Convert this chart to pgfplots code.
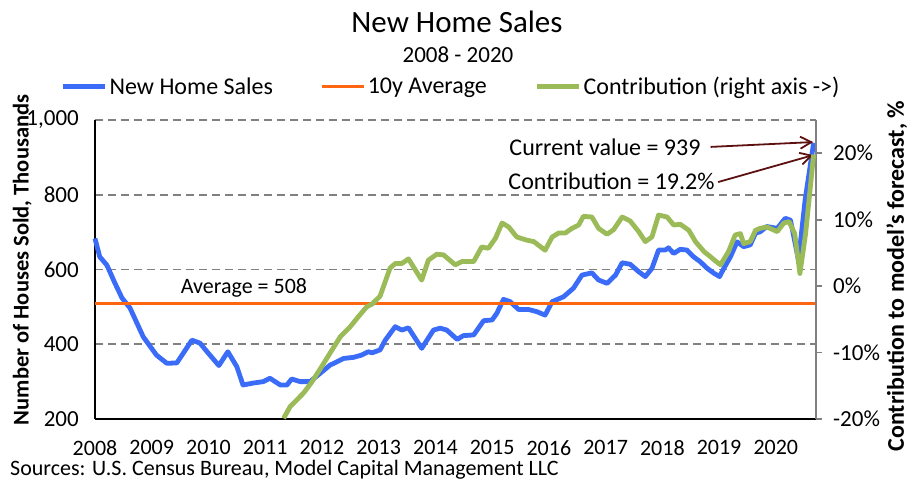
\documentclass[border=0pt]{standalone}
\usepackage{pgfplots}
\pgfplotsset{compat=1.18}
\usepackage{pgfplotstable}
\usepackage{fontspec}
\setmainfont{Carlito}
\usetikzlibrary{arrows.meta}
\definecolor{cblue}{RGB}{59,108,248}
\definecolor{corange}{RGB}{255,102,17}
\definecolor{cgreen}{RGB}{155,187,89}
\definecolor{cgrid}{RGB}{128,128,128}
\definecolor{carrow}{RGB}{92,16,16}

\pgfplotstableread{
m v
0 683
1 634
2.5 612
4.2 564
5.7 524
7.4 497
10.2 420
13 371
15.2 349
17.3 350
20.5 411
22.2 403
24.3 371
26.2 343
28.1 380
30 340
31.3 291
33.4 296
35.6 300
37 309
39.2 291
40.6 291
41.6 307
43.4 300
45.5 300
47.6 322
49.7 344
52.6 362
54.7 365
56.4 371
57.8 380
58.6 377
60.3 385
61.4 411
63.5 447
64.9 438
66.3 444
69.1 389
71.6 438
73 443
74.4 438
76.6 413
77.9 423
80.1 425
82.2 463
84 465
85 483
86.4 520
87.8 514
89.6 493
91.7 493
93.5 487
95.2 478
96.7 514
99.1 527
101.2 550
103 585
105.1 591
106.5 572
108.3 563
110.1 585
111.5 618
113.2 614
115 594
116.4 581
117.8 603
119.2 652
120.6 652
121.3 658
122.4 643
123.8 654
125.2 652
126.6 634
128 621
129.5 603
130.9 590
132.1 581
133 603
134.4 634
135.8 674
137.2 661
138.6 666
139.7 697
140.7 701
142.1 715
144.3 710
146 737
147.1 732
148.8 625
150.2 786
152 939
}\sales

\pgfplotstableread{
m c
39.9 -19.9
41.3 -18.1
42.3 -17.4
44.1 -16.1
45.9 -14.4
47.6 -12.5
49.7 -10.1
51.9 -7.6
54 -6.1
55.7 -4.6
57.5 -3.1
58.6 -2.7
60.3 -1.5
61 -0.1
62.4 2.7
63.5 3.4
64.9 3.4
66.3 4.1
69.1 0.9
70.5 3.9
72.3 4.8
73.7 4.7
76.2 3.2
77.6 3.7
80.1 3.7
81.8 5.9
83.2 5.7
84.7 7.2
86.1 9.5
87.5 8.9
89.2 7.4
91.4 6.9
92.8 6.7
95.2 5.4
96.7 7.4
98.1 8.0
99.5 8.0
100.9 8.7
102.3 9.2
103.3 10.5
105.1 10.4
106.5 8.7
108.3 7.8
109.7 8.5
111.5 10.4
113.2 9.8
115 8.2
116.4 6.7
117.8 7.4
119.2 10.7
121 10.4
122.4 9.2
123.8 9.3
125.6 8.4
127 6.7
128.8 5.2
130.2 4.4
131.2 3.8
132.3 3.2
134 5.2
135.4 7.7
136.5 7.9
137.2 6.4
138.6 6.7
139.7 8.4
140.7 8.7
142.1 8.9
144.3 8.2
145.7 9.5
146.8 9.7
148 7.9
149.1 1.9
150.3 7.9
152 19.8
}\contrib

\begin{document}
\begin{tikzpicture}[x=1pt,y=1pt]
\useasboundingbox (-95,-71) rectangle (819,419);
\begin{axis}[
  at={(0,0)}, anchor=south west,
  scale only axis, width=721pt, height=299pt,
  xmin=0, xmax=152.5, ymin=200, ymax=1000,
  axis x line*=bottom, axis y line*=left,
  axis line style={black, line width=2pt},
  xtick={0,12,...,144},
  xticklabels={2008,2009,2010,2011,2012,2013,2014,2015,2016,2017,2018,2019,2020},
  ytick={200,400,600,800,1000},
  yticklabels={200,400,600,800,{1,000}},
  major tick length=0pt,
  tick style={draw=none},
  ymajorgrids,
  grid style={cgrid, line width=1.8pt, dash pattern=on 8pt off 5pt},
  xticklabel style={font=\fontsize{22}{24}\selectfont, inner sep=0pt, anchor=north, yshift=-21pt},
  yticklabel style={font=\fontsize{23}{25}\selectfont, inner sep=0pt, anchor=east, xshift=-16pt},
  ylabel={Number of Houses Sold, Thousands},
  ylabel style={font=\bfseries\fontsize{22.5}{24}\selectfont, at={(axis description cs:-0.101,0.532)}, anchor=center},
  clip=false,
  legend columns=3,
  legend style={at={(axis description cs:0.494,1.111)}, anchor=center, draw=none, fill=none,
    font=\fontsize{24}{26}\selectfont, inner sep=0pt,
    /tikz/every even column/.append style={column sep=46pt}},
  legend image code/.code={\draw[#1] (0pt,0pt) -- (42pt,0pt);},
]
\addplot[cblue, line width=4.8pt, line join=round] table[x=m, y=v] {\sales};
\addlegendentry{New Home Sales}
\addplot[corange, line width=2.8pt] coordinates {(0,508) (152.5,508)};
\addlegendentry{10y Average}
\addlegendimage{cgreen, line width=4.8pt}
\addlegendentry{Contribution (right axis ->)}
\node[font=\fontsize{22}{24}\selectfont] at (axis cs:31.5,550) {Average = 508};
\node[font=\fontsize{24}{26}\selectfont, anchor=east] at (axis cs:128.8,928) {Current value = 939};
\node[font=\fontsize{24}{26}\selectfont, anchor=east] at (axis cs:131.8,837) {Contribution = 19.2\%};
\draw[carrow, line width=1.8pt, -{Straight Barb[length=11pt,width=12pt]}] (axis cs:130.2,928) -- (axis cs:151.9,941);
\draw[carrow, line width=1.8pt, -{Straight Barb[length=11pt,width=12pt]}] (axis cs:131.8,834) -- (axis cs:151.9,906);
\end{axis}
\begin{axis}[
  at={(0,0)}, anchor=south west,
  scale only axis, width=721pt, height=299pt,
  xmin=0, xmax=152.5, ymin=-20, ymax=25,
  axis y line*=right, axis x line=none,
  axis line style={cgrid, line width=2pt},
  ytick={-20,-10,0,10,20},
  yticklabels={-20\%,-10\%,0\%,10\%,20\%},
  tick align=outside, major tick length=6pt,
  ytick style={cgrid, line width=1.8pt},
  yticklabel style={font=\fontsize{23}{25}\selectfont, inner sep=0pt, anchor=west, xshift=11pt},
  ylabel={Contribution to model's forecast, \%},
  ylabel style={font=\bfseries\fontsize{24}{26}\selectfont, at={(axis description cs:1.112,0.478)}, anchor=center},
  clip=false,
]
\addplot[cgreen, line width=4.8pt, line join=round] table[x=m, y=c] {\contrib};
\end{axis}
\node[font=\fontsize{31}{33}\selectfont] at (362,397) {New Home Sales};
\node[font=\fontsize{23}{25}\selectfont] at (363,364) {2008 - 2020};
\node[font=\fontsize{22}{24}\selectfont, anchor=west, inner sep=0pt] at (-85,-51) {Sources: U.S. Census Bureau, Model Capital Management LLC};
\end{tikzpicture}
\end{document}
